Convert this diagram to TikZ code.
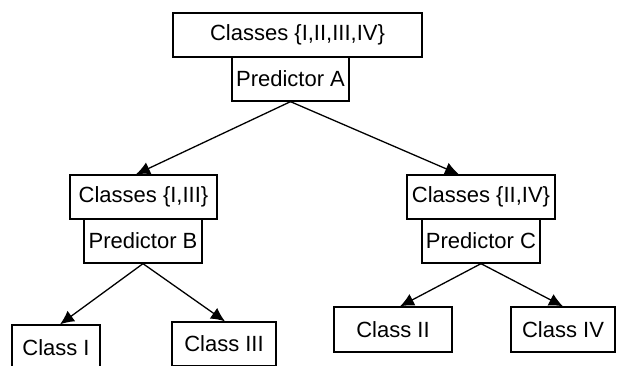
\documentclass[tikz,border=0pt]{standalone}
\usepackage{fontspec}
\setmainfont{Liberation Sans}
\usetikzlibrary{arrows.meta}
\def\h{44}

\begin{document}
\begin{tikzpicture}[x=1pt,y=-1pt,>={Latex[length=14pt,width=13pt]},line width=1.3pt,
	box/.style={draw,rectangle,inner sep=0pt,minimum height=\h pt,
		font=\fontsize{22}{26}\selectfont}]
\useasboundingbox (0,0) rectangle (617,365);
\clip (0,0) rectangle (617,365);
\node[box,minimum width=249pt] (all) at (297.5,35) {Classes \{I,II,III,IV\}};
\node[box,minimum width=117pt] (predA) at (290.5,79) {Predictor A};
\node[box,minimum width=147pt] (left) at (143.5,197) {Classes \{I,III\}};
\node[box,minimum width=118pt] (predB) at (143,241) {Predictor B};
\node[box,minimum width=148pt] (right) at (481,197) {Classes \{II,IV\}};
\node[box,minimum width=118pt] (predC) at (481,241) {Predictor C};
\node[box,minimum width=88pt,minimum height=45pt] (c1) at (56,347.5) {Class I};
\node[box,minimum width=104pt] (c3) at (224,344) {Class III};
\node[box,minimum width=118pt,minimum height=45pt] (c2) at (393,329.5) {Class II};
\node[box,minimum width=104pt,minimum height=45pt] (c4) at (563,329.5) {Class IV};
\draw[->] (predA.south) -- ([xshift=-7.5pt]left.north);
\draw[->] (predA.south) -- ([xshift=-22pt]right.north);
\draw[->] (predB.south) -- ([xshift=4pt]c1.north);
\draw[->] (predB.south) -- ([xshift=1pt]c3.north);
\draw[->] (predC.south) -- ([xshift=7pt]c2.north);
\draw[->] (predC.south) -- (c4.north);
\end{tikzpicture}
\end{document}
